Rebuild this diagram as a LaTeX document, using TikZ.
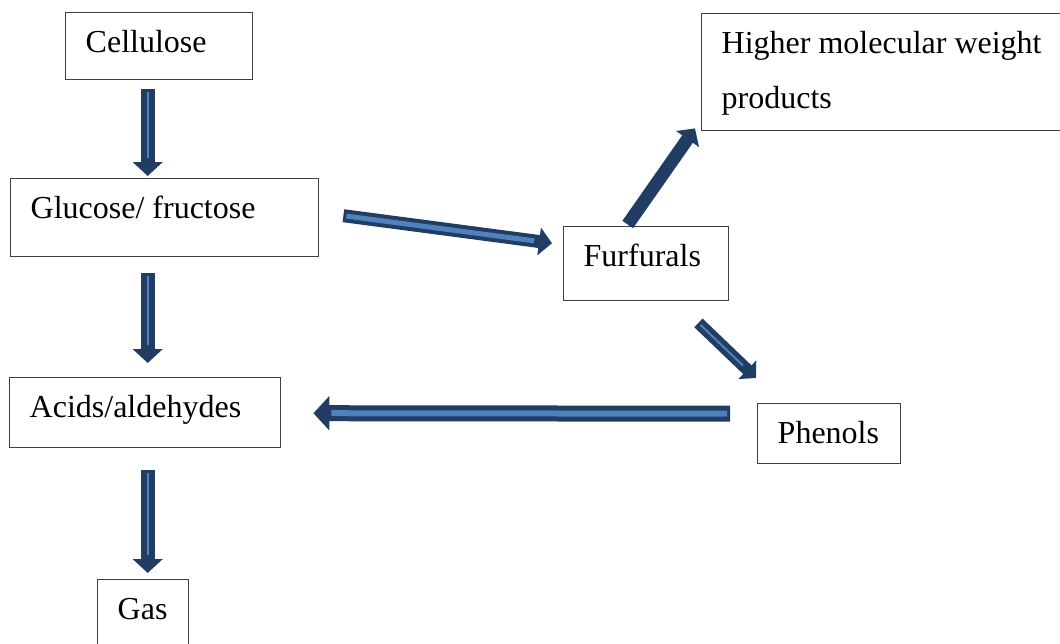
\documentclass[tikz,border=0pt]{standalone}
\usepackage{fontspec}
\setmainfont{Liberation Serif}
\usetikzlibrary{arrows.meta,calc}
\definecolor{arrowdark}{RGB}{34,61,99}
\definecolor{arrowlight}{RGB}{79,129,189}

\begin{document}
\begin{tikzpicture}[x=0.5pt, y=-0.5pt,
    box/.style={draw=black!75, line width=0.7pt, anchor=north west, align=left,
      inner xsep=10pt, inner ysep=0pt, text height=20pt,
      font=\fontsize{16}{27.5}\selectfont,
      execute at begin node={\spaceskip=.25em\relax}},
    flow/.style={draw=arrowdark, line width=#1,
      -{Triangle[length=0pt 1, width=0pt 2.1]}},
    glow/.style={postaction={draw=arrowlight, line width=#1, -,
      shorten >=9pt, shorten <=1.5pt}}]
  \useasboundingbox (0,0) rectangle (1060,643);

  % boxes
  \node[box, text width=73.5pt, text depth=13.5pt] (cellulose) at (65,12) {Cellulose};
  \node[box, text width=134pt, text depth=19pt] (glucose) at (10,178) {Glucose/ fructose};
  \node[box, text width=115.5pt, text depth=15pt] (acids) at (9,377) {Acids/aldehydes};
  \node[box, text width=25.5pt, text depth=14pt] (gas) at (97,579) {Gas};
  \node[box, text width=62.5pt, text depth=17pt] (furfurals) at (563,225.5) {Furfurals};
  \node[box, text width=51.5pt, text depth=10pt] (phenols) at (757,403) {Phenols};
  \node[box, text width=170pt, text depth=38.5pt] (higher) at (701,13)
    {Higher molecular weight\\products};

  % block arrows
  \draw[flow=7pt, glow=1pt] ($(cellulose.south)+(-11.5,9)$) -- ($(glucose.north)+(-17,-2)$);
  \draw[flow=7pt, glow=1pt] ($(glucose.south)+(-17,16)$) -- ($(acids.north)+(2.5,-14)$);
  \draw[flow=7pt, glow=1pt] ($(acids.south)+(2.5,22)$) -- ($(gas.north)+(4.5,-6)$);
  \draw[flow=6.5pt, glow=2.5pt] ($(glucose.east)+(24,-2)$) -- ($(furfurals.west)+(-11,-20)$);
  \draw[flow=6.5pt] ($(furfurals.north)+(-18.5,-1)$) -- ($(higher.south west)+(-6,-3)$);
  \draw[flow=6pt, glow=1pt] ($(furfurals.south east)+(-31,22)$) -- ($(phenols.north west)+(-1,-25)$);
  \draw[flow=8pt, glow=3pt] ($(phenols.west)+(-27,-20)$) -- ($(acids.east)+(32,0.5)$);
\end{tikzpicture}
\end{document}
